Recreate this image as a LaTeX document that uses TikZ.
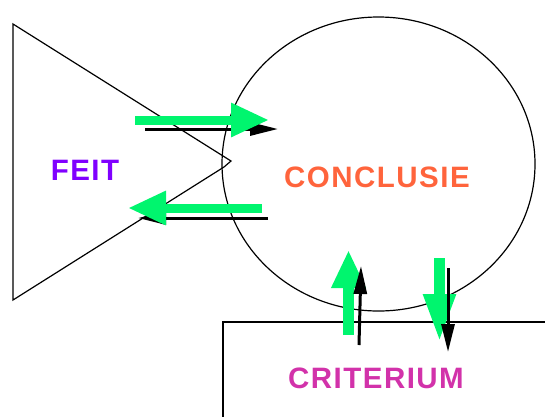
\documentclass[tikz,border=0pt]{standalone}
\usepackage{fontspec}
\setmainfont{Liberation Sans}
\usetikzlibrary{arrows.meta}
\definecolor{arrgreen}{RGB}{0,245,110}
\definecolor{feitcol}{RGB}{128,0,255}
\definecolor{conccol}{RGB}{255,100,60}
\definecolor{critcol}{RGB}{210,50,170}
\tikzset{
  shapeline/.style={draw=black, line width=1.2pt},
  greenarrow/.style={draw=arrgreen, line width=9pt, -{Triangle[length=38pt,width=32pt]}},
  blackarrow/.style={draw=black, line width=3pt, -{Triangle[length=28pt,width=13pt]}},
  lbl/.style={font=\fontsize{29.5}{29.5}\selectfont\bfseries\addfontfeature{LetterSpace=5}, inner sep=0pt}
}
\begin{document}
\begin{tikzpicture}[x=1pt,y=-1pt]
\useasboundingbox (0,0) rectangle (545,416);
% shapes
\draw[shapeline] (13,24) -- (231,161) -- (224,167) -- (13,300) -- cycle;
\draw[shapeline] (378.5,164) ellipse [x radius=156.5, y radius=147];
\draw[shapeline] (223,417) -- (223,322) -- (546,322);
% labels
\node[lbl, text=feitcol] (feit) at (85,170) {FEIT};
\node[lbl, text=conccol] (concl) at (377,177) {CONCLUSIE};
\node[lbl, text=critcol] (crit) at (376,378) {CRITERIUM};
% coordinates
\coordinate (t1s) at (145,129); \coordinate (t1e) at (278,129);
\coordinate (g1s) at (135,120); \coordinate (g1e) at (269,120);
\coordinate (t2s) at (268,218); \coordinate (t2e) at (138,218);
\coordinate (g2s) at (262,208); \coordinate (g2e) at (128,208);
\coordinate (g3s) at (348.5,335); \coordinate (g3e) at (348.5,250);
\coordinate (t3s) at (359,345); \coordinate (t3e) at (361,266);
\coordinate (g4s) at (439.5,258); \coordinate (g4e) at (439.5,342);
\coordinate (t4s) at (448,268); \coordinate (t4e) at (448,352);
% horizontal arrows (green on top)
\draw[blackarrow] (t1s) -- (t1e);
\draw[greenarrow] (g1s) -- (g1e);
\draw[blackarrow] (t2s) -- (t2e);
\draw[greenarrow] (g2s) -- (g2e);
% vertical arrows (black on top)
\draw[greenarrow, line width=11pt] (g3s) -- (g3e);
\draw[blackarrow] (t3s) -- (t3e);
\draw[greenarrow, line width=11pt, -{Triangle[length=48pt,width=30pt]}] (g4s) -- (g4e);
\draw[blackarrow] (t4s) -- (t4e);
\end{tikzpicture}
\end{document}
